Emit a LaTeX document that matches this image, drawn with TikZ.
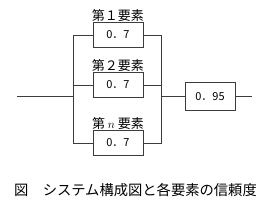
\documentclass[tikz,border=0pt]{standalone}
\usepackage{fontspec}
\setmainfont{Noto Sans CJK JP}
\usepackage{tikz}
\usetikzlibrary{positioning,calc}
\definecolor{cLine}{RGB}{60,60,60}
\tikzset{
	ebox/.style={draw=cLine, line width=0.7pt, minimum width=50pt,
		minimum height=25pt, inner sep=0pt, fill=white,
		font=\fontsize{11}{12}\selectfont},
	elab/.style={inner sep=0.5pt, font=\fontsize{13}{14}\selectfont},
	mwire/.style={draw=cLine, line width=0.7pt},
}

\begin{document}
\begin{tikzpicture}[x=1pt,y=-1pt]
	\useasboundingbox (0,0) rectangle (274,209);
	% parallel elements
	\node[ebox] (e1) at (118,35) {0．7};
	\node[ebox] (e2) at (118,85) {0．7};
	\node[ebox] (en) at (118,143) {0．7};
	\node[elab, above=0pt of e1] (l1) {第１要素};
	\node[elab, above=0pt of e2] (l2) {第２要素};
	\node[elab, above=0pt of en] (ln) {第 $n$ 要素};
	% series element
	\node[ebox, minimum height=28pt] (fin) at (210,96.5) {0．95};
	% bus points
	\coordinate (lt) at (73,35);
	\coordinate (lb) at (73,143);
	\coordinate (rt) at (161,35);
	\coordinate (rb) at (161,143);
	\coordinate (inp) at (17,96.5);
	\coordinate (out) at (252,96.5);
	\draw[mwire] (e1.west) -| (lb) |- (en.west);
	\draw[mwire] (e1.east) -| (rb) |- (en.east);
	\draw[mwire] (e2.west) -- (e2.west -| lb);
	\draw[mwire] (e2.east) -- (e2.east -| rb);
	\draw[mwire] (inp) -- (inp -| lb);
	\draw[mwire] (fin.west -| rb) -- (fin.west);
	\draw[mwire] (fin.east) -- (out);
	% caption
	\node[font=\fontsize{14.3}{15}\selectfont] (cap) at (135.5,190)
		{図　システム構成図と各要素の信頼度};
\end{tikzpicture}
\end{document}
